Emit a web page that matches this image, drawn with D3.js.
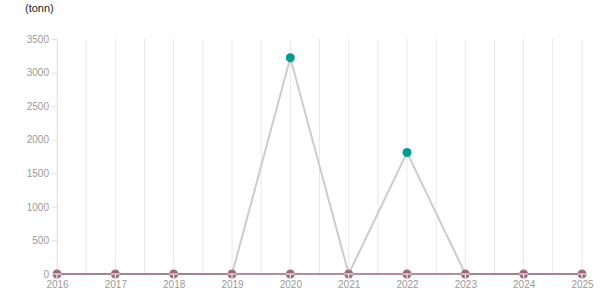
<!DOCTYPE html>
<html>
<head>
<meta charset="utf-8">
<script src="https://cdn.jsdelivr.net/npm/d3@7"></script>
<style>
  body { margin: 0; background: #fff; }
  text { font-family: "Liberation Sans", Arial, sans-serif; }
</style>
</head>
<body>
<div id="chart"></div>
<script>
// data
const years = [2016, 2017, 2018, 2019, 2020, 2021, 2022, 2023, 2024, 2025];
const amounts = [0, 0, 0, 0, 3220, 0, 1810, 0, 0, 0];
const baseline = [0, 0, 0, 0, 0, 0, 0, 0, 0, 0];
const yTicks = [0, 500, 1000, 1500, 2000, 2500, 3000, 3500];

const width = 615, height = 305;
const margin = {left: 57, right: 33, top: 39, bottom: 31};

const svg = d3.select("#chart").append("svg")
    .attr("width", width).attr("height", height);

const x = d3.scaleLinear()
    .domain([years[0], years[years.length - 1]])
    .range([margin.left, width - margin.right]);
const y = d3.scaleLinear()
    .domain([0, 3500])
    .range([height - margin.bottom, margin.top]);

// unit label
svg.append("text").attr("x", 25).attr("y", 12)
    .attr("font-size", "11px").attr("fill", "#222").text("(tonn)");

// vertical grid (years + half years)
const gridVals = d3.range(years[0], years[years.length - 1] + 0.01, 0.5);
svg.append("g").selectAll("line").data(gridVals).enter().append("line")
    .attr("x1", d => x(d)).attr("x2", d => x(d))
    .attr("y1", y(3500)).attr("y2", y(0))
    .attr("stroke", "#e8e8e8").attr("stroke-width", 1);

// y axis
const yAxis = svg.append("g")
    .attr("transform", "translate(" + margin.left + ",0)")
    .call(d3.axisLeft(y).tickValues(yTicks).tickFormat(d3.format("d")).tickSize(5).tickPadding(3));
yAxis.select(".domain").attr("stroke", "#e6e6e6");
yAxis.selectAll(".tick line").attr("stroke", "#e0e0e0");
yAxis.selectAll(".tick text").attr("fill", "#999").attr("font-size", "10px")
    .style("font-family", "Liberation Sans, Arial, sans-serif");

// x axis labels
const xAxis = svg.append("g")
    .attr("transform", "translate(0," + y(0) + ")")
    .call(d3.axisBottom(x).tickValues(years).tickFormat(d3.format("d")).tickSize(0).tickPadding(7));
xAxis.select(".domain").remove();
xAxis.selectAll(".tick text").attr("fill", "#999").attr("font-size", "10px")
    .style("font-family", "Liberation Sans, Arial, sans-serif");

// gray series
const line = d3.line().x((d, i) => x(years[i])).y(d => y(d));
svg.append("path").datum(amounts).attr("d", line)
    .attr("fill", "none").attr("stroke", "#cccccc").attr("stroke-width", 2);

svg.append("g").selectAll("circle").data(amounts.filter(d => d > 0)).enter().append("circle")
    .attr("cx", d => x(years[amounts.indexOf(d)]))
    .attr("cy", d => y(d))
    .attr("r", 4.5).attr("fill", "#009b95");

// maroon baseline series
svg.append("path").datum(baseline).attr("d", line)
    .attr("fill", "none").attr("stroke", "#9b6878").attr("stroke-width", 1.5);

const marks = svg.append("g").selectAll("g").data(baseline).enter().append("g")
    .attr("transform", (d, i) => "translate(" + x(years[i]) + "," + y(d) + ")");
marks.append("circle").attr("r", 4.5).attr("fill", "#a06a7c");
marks.append("line").attr("x1", -4.5).attr("x2", 4.5).attr("y1", 0).attr("y2", 0)
    .attr("stroke", "#fff").attr("stroke-width", 1);
marks.append("line").attr("x1", 0).attr("x2", 0).attr("y1", 0).attr("y2", 4.5)
    .attr("stroke", "#fff").attr("stroke-width", 1);
</script>
</body>
</html>
